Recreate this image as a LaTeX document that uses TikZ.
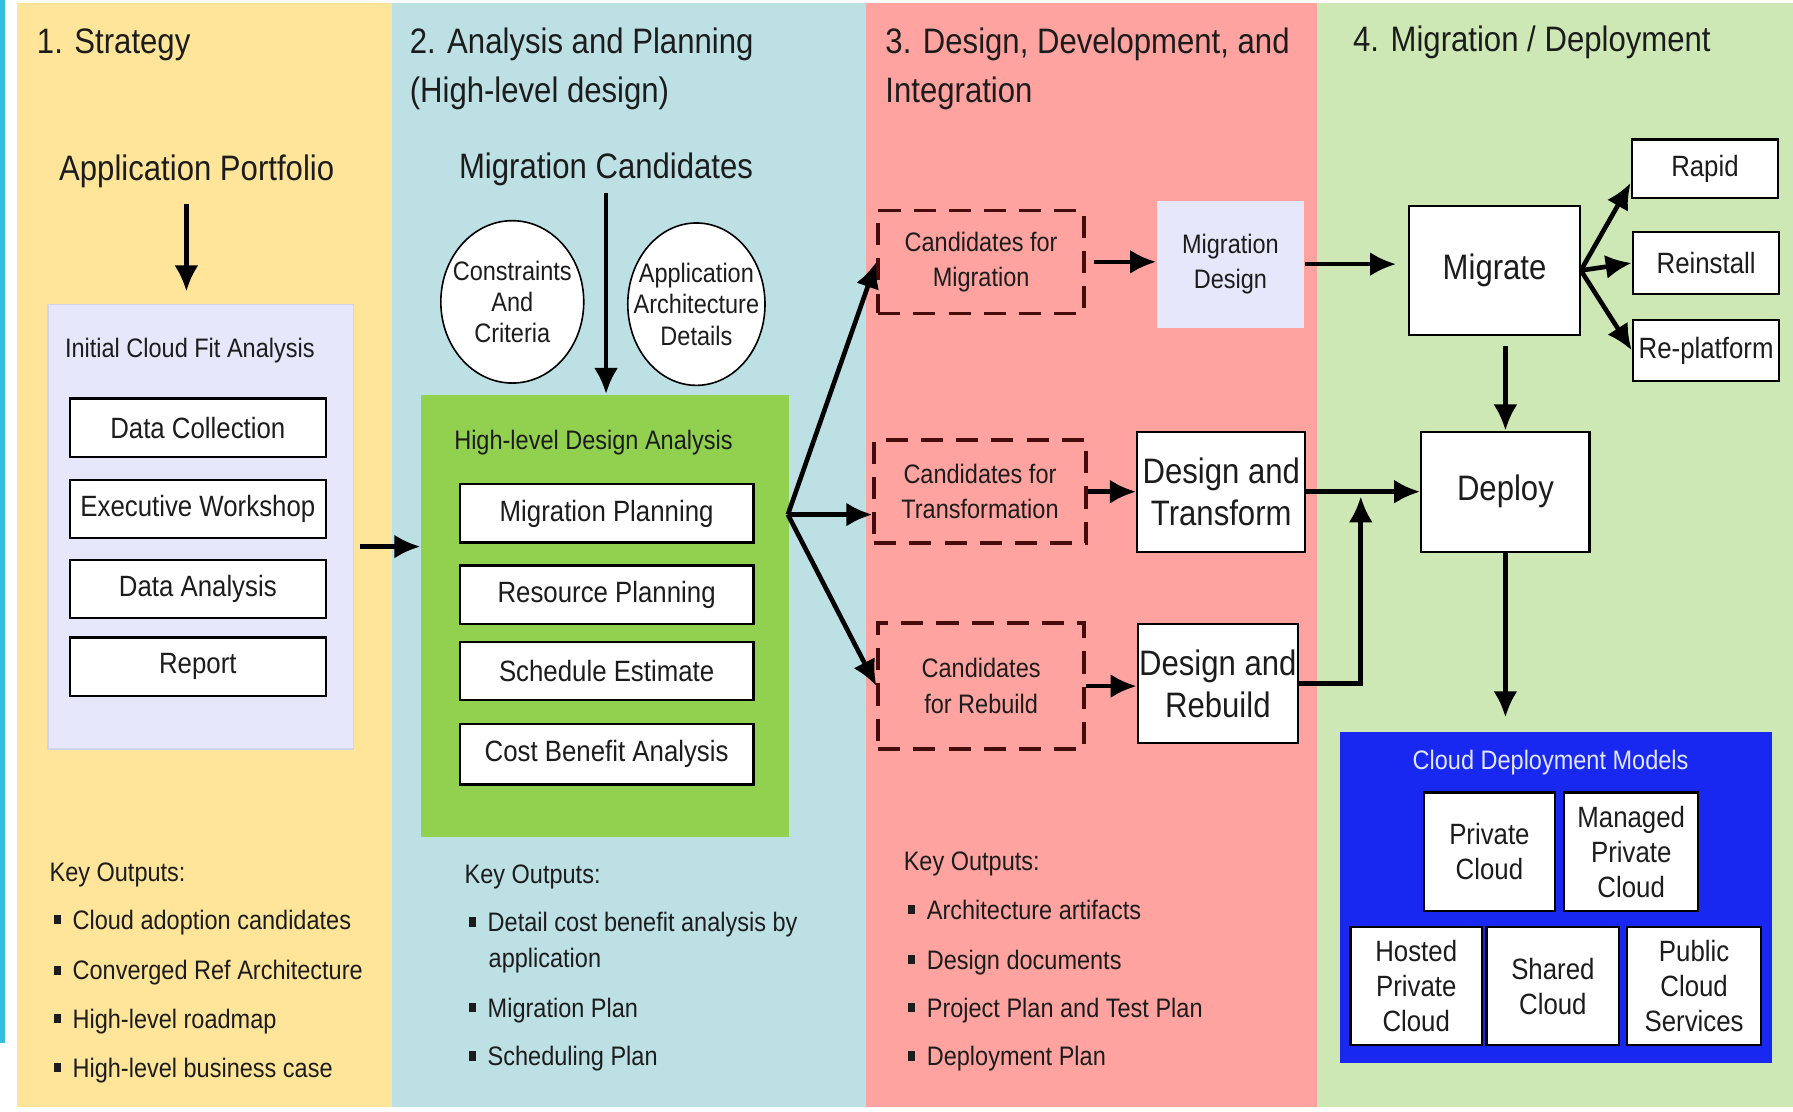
\documentclass[tikz,border=0pt]{standalone}
\usepackage{fontspec}
\setmainfont{Liberation Sans}[FakeStretch=0.88]
\usetikzlibrary{arrows.meta,shapes.geometric}

\definecolor{colY}{RGB}{255,229,153}
\definecolor{colB}{RGB}{189,224,228}
\definecolor{colR}{RGB}{255,163,160}
\definecolor{colG}{RGB}{206,232,181}
\definecolor{lav}{RGB}{230,231,250}
\definecolor{lavline}{RGB}{212,212,232}
\definecolor{grn}{RGB}{146,208,80}
\definecolor{blu}{RGB}{24,40,240}
\definecolor{cdmtext}{RGB}{225,230,255}
\definecolor{dashred}{RGB}{70,12,12}
\definecolor{cyanbar}{RGB}{50,190,220}
\definecolor{ink}{RGB}{28,28,28}

\newcommand{\fbig}{\fontsize{17.6pt}{21pt}\selectfont}
\newcommand{\fmid}{\fontsize{14.6pt}{17.5pt}\selectfont}
\newcommand{\fsml}{\fontsize{13.3pt}{17.6pt}\selectfont}
\newcommand{\sqb}{\rule[2.6pt]{3.4pt}{4.6pt}\hspace{5.8pt}}

\begin{document}
\begin{tikzpicture}[x=0.02cm,y=-0.02cm,>={Latex[length=13pt,width=12pt]},
    every node/.style={text=ink},
    sz/.style 2 args={minimum width=#1*0.02cm,minimum height=#2*0.02cm},
    box/.style={draw,fill=white,line width=1.1pt,inner sep=0pt,align=center,font=\fmid},
    cand/.style={draw=dashred,dash pattern=on 11pt off 6.5pt,line width=1.8pt,inner sep=0pt,align=center,font=\fsml},
    bubble/.style={draw,ellipse,fill=white,line width=0.8pt,inner xsep=-8pt,inner ysep=0pt,align=center,font=\fontsize{13.3pt}{15.6pt}\selectfont},
    arr/.style={->,line width=2.3pt},
    coltitle/.style={anchor=base west,inner sep=0pt,font=\fbig},
    keyout/.style={anchor=base west,inner sep=0pt,font=\fsml}]
        \useasboundingbox (0,0) rectangle (1568,972);
        % backgrounds
        \fill[white] (0,0) rectangle (1568,972);
        \fill[cyanbar] (0,0) rectangle (4,912);
        \fill[colY] (15,3) rectangle (343,968);
        \fill[colB] (343,3) rectangle (757,968);
        \fill[colR] (757,3) rectangle (1152,968);
        \fill[colG] (1152,3) rectangle (1568,968);
        % 1. strategy
        \node[coltitle] (t1) at (32,47) {1. Strategy};
        \node[font=\fbig] (ap) at (172,150) {Application Portfolio};
        \node[fill=lav,draw=lavline,line width=0.6pt,sz={267}{389}] (icfa) at (175.5,460.5) {};
        \node[font=\fsml] (icfal) at (166,307) {Initial Cloud Fit Analysis};
        \node[box,sz={224}{51}] (dc) at (173,374) {Data Collection};
        \node[box,sz={224}{51}] (ew) at (173,445) {Executive Workshop};
        \node[box,sz={224}{51}] (da) at (173,515) {Data Analysis};
        \node[box,sz={224}{51}] (rep) at (173,583) {Report};
        \node[keyout] (k1) at (43,771) {Key Outputs:};
        \node[keyout] (k1a) at (47,813) {\sqb Cloud adoption candidates};
        \node[keyout] (k1b) at (47,857) {\sqb Converged Ref Architecture};
        \node[keyout] (k1c) at (47,899) {\sqb High-level roadmap};
        \node[keyout] (k1d) at (47,942) {\sqb High-level business case};
        % 2. analysis and planning
        \node[coltitle] (t2a) at (358,47) {2. Analysis and Planning};
        \node[coltitle] (t2b) at (358,90) {(High-level design)};
        \node[font=\fbig] (mc) at (530,148) {Migration Candidates};
        \node[bubble,sz={125}{142}] (cc) at (448,264) {Constraints\\And\\Criteria};
        \node[bubble,sz={120}{142}] (aad) at (609,266) {Application\\Architecture\\Details};
        \node[fill=grn,sz={322}{387}] (hda) at (529,538.5) {};
        \node[font=\fsml] (hdal) at (519,387) {High-level Design Analysis};
        \node[box,sz={257}{51}] (mp) at (530.5,449) {Migration Planning};
        \node[box,sz={257}{51}] (rsp) at (530.5,520) {Resource Planning};
        \node[box,sz={257}{51}] (se) at (530.5,587) {Schedule Estimate};
        \node[box,sz={257}{53}] (cba) at (530.5,659.5) {Cost Benefit Analysis};
        \node[keyout] (k2) at (406,773) {Key Outputs:};
        \node[keyout] (k2a) at (410,815) {\sqb Detail cost benefit analysis by};
        \node[keyout] (k2b) at (427,846) {application};
        \node[keyout] (k2c) at (410,890) {\sqb Migration Plan};
        \node[keyout] (k2d) at (410,932) {\sqb Scheduling Plan};
        % 3. design, development, integration
        \node[coltitle] (t3a) at (774,47) {3. Design, Development, and};
        \node[coltitle] (t3b) at (774,90) {Integration};
        \node[cand,sz={180}{90}] (cm) at (858,229) {Candidates for\\Migration};
        \node[cand,sz={185}{90}] (ct) at (857,430) {Candidates for\\Transformation};
        \node[cand,sz={180}{110}] (cr) at (858,600) {Candidates\\for Rebuild};
        \node[fill=lav,sz={129}{111},align=center,font=\fsml] (md) at (1076,231) {Migration\\Design};
        \node[box,font=\fbig,sz={147}{105}] (dt) at (1068,430) {Design and\\Transform};
        \node[box,font=\fbig,sz={140}{104}] (dr) at (1065,598) {Design and\\Rebuild};
        \node[keyout] (k3) at (790,761) {Key Outputs:};
        \node[keyout] (k3a) at (794,804) {\sqb Architecture artifacts};
        \node[keyout] (k3b) at (794,848) {\sqb Design documents};
        \node[keyout] (k3c) at (794,890) {\sqb Project Plan and Test Plan};
        \node[keyout] (k3d) at (794,932) {\sqb Deployment Plan};
        % 4. migration / deployment
        \node[coltitle] (t4) at (1183,45) {4. Migration / Deployment};
        \node[box,font=\fbig,sz={149}{113}] (mg) at (1307,236.5) {Migrate};
        \node[box,sz={128}{51}] (rp) at (1491,147.5) {Rapid};
        \node[box,sz={128}{54}] (ri) at (1492,230) {Reinstall};
        \node[box,sz={128}{53}] (rl) at (1492,306.5) {Re-platform};
        \node[box,font=\fbig,sz={147}{105}] (dp) at (1316.5,430) {Deploy};
        \node[fill=blu,sz={378}{290}] (cdm) at (1361,785) {};
        \node[font=\fsml,text=cdmtext] (cdml) at (1356,667) {Cloud Deployment Models};
        \node[box,sz={115}{104}] (pc) at (1302.5,745) {Private\\Cloud};
        \node[box,sz={117}{104}] (mpc) at (1426.5,745) {Managed\\Private\\Cloud};
        \node[box,sz={115}{103}] (hpc) at (1238.5,862.5) {Hosted\\Private\\Cloud};
        \node[box,sz={116}{103}] (sc) at (1358,862.5) {Shared\\Cloud};
        \node[box,sz={117}{103}] (pcs) at (1481.5,862.5) {Public\\Cloud\\Services};
        % connectors
        \coordinate (apb) at (163,178);
        \coordinate (cf) at (315,478);
        \coordinate (fork) at (689,450);
        \coordinate (jn) at (1190,434);
        \draw[arr,shorten >=6pt] (apb) -- (apb |- icfa.north);
        \draw[arr] (cf) -- (cf -| hda.west);
        \draw[arr] (mc.south) -- (mc.south |- hda.north);
        \draw[arr] (fork) -- (cm.west);
        \draw[arr] (fork) -- (fork -| ct.west);
        \draw[arr] (fork) -- (cr.west);
        \draw[arr,shorten <=4pt] (cm.east) -- (cm.east -| md.west);
        \draw[arr] (ct.east) -- (ct.east -| dt.west);
        \draw[arr] (cr.east) -- (cr.east -| dr.west);
        \draw[arr,shorten >=6pt] (md.east) -- (md.east -| mg.west);
        \draw[arr] (mg.east) -- ([yshift=8pt]rp.south west);
        \draw[arr] (mg.east) -- (ri.west);
        \draw[arr] (mg.east) -- (rl.west);
        \draw[arr,shorten <=5pt] (dp.north |- mg.south) -- (dp.north);
        \draw[arr] (dt.east) -- (dt.east -| dp.west);
        \draw[arr] (dr.east) -| (jn);
        \draw[arr,shorten >=7pt] (dp.south) -- (dp.south |- cdm.north);
\end{tikzpicture}
\end{document}
